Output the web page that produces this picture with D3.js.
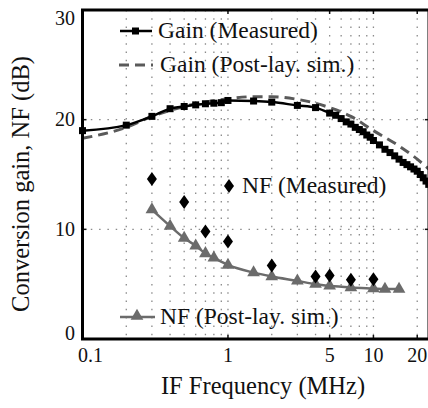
<!DOCTYPE html>
<html>
<head>
<meta charset="utf-8">
<script src="https://cdn.jsdelivr.net/npm/d3@7"></script>
<style>
  body { margin: 0; background: #fff; }
  svg text { font-family: "Liberation Serif", "Times New Roman", serif; fill: #111; }
</style>
</head>
<body>
<script>
// Gain (Measured)
const gainMeasFreq = [0.1, 0.2, 0.3, 0.4, 0.5, 0.6, 0.7, 0.8, 0.9, 1, 1.5, 2, 3, 4, 5, 5.5, 6, 6.5, 7, 7.5, 8, 8.5, 9, 9.5, 10,
                      11, 12, 13, 14, 15, 16, 17, 18, 19, 20, 21, 22, 23, 24];
const gainMeas = [19.0, 19.5, 20.3, 21.0, 21.2, 21.35, 21.45, 21.5, 21.55, 21.75, 21.7, 21.6, 21.3, 21.1, 20.6, 20.4, 20.1, 19.8, 19.6, 19.3, 19.1, 18.9, 18.6, 18.4, 18.1,
                  17.7, 17.3, 17.0, 16.7, 16.4, 16.1, 15.9, 15.7, 15.5, 15.3, 15.0, 14.7, 14.4, 14.1];

// Gain (Post-lay. sim.)
const gainSimFreq = [0.1, 0.2, 0.3, 0.5, 0.7, 1, 1.5, 2, 3, 4, 5, 7, 10, 15, 20, 24];
const gainSim = [18.3, 19.3, 20.3, 21.2, 21.6, 21.9, 22.1, 22.1, 21.85, 21.5, 21.1, 20.3, 19.0, 17.6, 16.4, 15.5];

// NF (Measured)
const nfMeasFreq = [0.3, 0.5, 0.7, 1, 2, 4, 5, 7, 10];
const nfMeas = [14.6, 12.5, 9.8, 8.9, 6.7, 5.7, 5.8, 5.4, 5.45];

// NF (Post-lay. sim.)
const nfSimFreq = [0.3, 0.4, 0.5, 0.6, 0.7, 0.8, 1, 1.5, 2, 3, 4, 5, 7, 10, 12, 15];
const nfSim = [11.8, 10.3, 9.2, 8.5, 7.8, 7.4, 6.75, 6.05, 5.7, 5.3, 5.0, 4.85, 4.7, 4.6, 4.55, 4.55];

const xTickVals = [0.1, 1, 5, 10, 20];
const yTickVals = [0, 10, 20, 30];
const xGridVals = [0.2, 0.3, 0.4, 0.5, 0.6, 0.7, 0.8, 0.9, 1, 2, 3, 4, 5, 6, 7, 8, 9, 10, 20];
const yGridVals = [10, 20];

const W = 428, H = 408;
const pLeft = 82.5, pRight = 429, pTop = 10, pBottom = 339;

const x = d3.scaleLog().domain([0.1, 24.1]).range([pLeft, pRight]);
const y = d3.scaleLinear().domain([0, 30]).range([pBottom, pTop]);

const svg = d3.select("body").append("svg")
    .attr("width", W)
    .attr("height", H);

// dotted grid
svg.append("g").selectAll("line")
    .data(xGridVals)
    .enter().append("line")
    .attr("x1", d => x(d)).attr("x2", d => x(d))
    .attr("y1", pTop).attr("y2", pBottom)
    .attr("stroke", "#8a8a8a")
    .attr("stroke-width", 1.3)
    .attr("stroke-dasharray", "1.5,6.8");

svg.append("g").selectAll("line")
    .data(yGridVals)
    .enter().append("line")
    .attr("x1", pLeft).attr("x2", pRight)
    .attr("y1", d => y(d)).attr("y2", d => y(d))
    .attr("stroke", "#8a8a8a")
    .attr("stroke-width", 1.3)
    .attr("stroke-dasharray", "1.5,6.8");

// small inward ticks
const ticks = svg.append("g").attr("stroke", "#111").attr("stroke-width", 1.5);
xTickVals.forEach(v => {
    ticks.append("line").attr("x1", x(v)).attr("x2", x(v)).attr("y1", pBottom).attr("y2", pBottom - 4);
    ticks.append("line").attr("x1", x(v)).attr("x2", x(v)).attr("y1", pTop).attr("y2", pTop + 4);
});
yGridVals.forEach(v => {
    ticks.append("line").attr("x1", pLeft).attr("x2", pLeft + 4).attr("y1", y(v)).attr("y2", y(v));
    ticks.append("line").attr("x1", pRight - 4).attr("x2", pRight).attr("y1", y(v)).attr("y2", y(v));
});

// series
const gainMeasPts = gainMeasFreq.map((f, i) => [f, gainMeas[i]]);
const gainSimPts = gainSimFreq.map((f, i) => [f, gainSim[i]]);
const nfMeasPts = nfMeasFreq.map((f, i) => [f, nfMeas[i]]);
const nfSimPts = nfSimFreq.map((f, i) => [f, nfSim[i]]);

const line = d3.line()
    .x(d => x(d[0]))
    .y(d => y(d[1]))
    .curve(d3.curveMonotoneX);

svg.append("path")
    .datum(gainSimPts)
    .attr("d", line)
    .attr("fill", "none")
    .attr("stroke", "#5a5a5a")
    .attr("stroke-width", 3)
    .attr("stroke-dasharray", "10,6");

svg.append("path")
    .datum(nfSimPts)
    .attr("d", line)
    .attr("fill", "none")
    .attr("stroke", "#6b6b6b")
    .attr("stroke-width", 2.5);

const triangle = d3.symbol().type(d3.symbolTriangle).size(70);
svg.append("g").selectAll("path")
    .data(nfSimPts)
    .enter().append("path")
    .attr("d", triangle)
    .attr("transform", d => `translate(${x(d[0])},${y(d[1])})`)
    .attr("fill", "#6b6b6b");

svg.append("path")
    .datum(gainMeasPts)
    .attr("d", line)
    .attr("fill", "none")
    .attr("stroke", "#000")
    .attr("stroke-width", 2.5);

svg.append("g").selectAll("rect")
    .data(gainMeasPts)
    .enter().append("rect")
    .attr("x", d => x(d[0]) - 3.5)
    .attr("y", d => y(d[1]) - 3.5)
    .attr("width", 7)
    .attr("height", 7)
    .attr("fill", "#000");

const diamond = "M0,-7L5,0L0,7L-5,0Z";
svg.append("g").selectAll("path")
    .data(nfMeasPts)
    .enter().append("path")
    .attr("d", diamond)
    .attr("transform", d => `translate(${x(d[0])},${y(d[1])})`)
    .attr("fill", "#000");

// axes frame (left, bottom, top, right)
svg.append("path")
    .attr("d", `M${pLeft},${pTop}H${pRight}M${pLeft},${pTop - 1.5}V${pBottom + 1.5}M${pLeft},${pBottom}H${pRight}M${pRight},${pTop}V${pBottom}`)
    .attr("stroke", "#000")
    .attr("stroke-width", 3)
    .attr("fill", "none");

// tick labels
svg.append("g").selectAll("text")
    .data(yTickVals)
    .enter().append("text")
    .attr("x", 75)
    .attr("y", d => Math.min(Math.max(y(d), pTop + 8), pBottom - 6))
    .attr("dy", "0.34em")
    .attr("text-anchor", "end")
    .style("font-size", "20px")
    .text(d => d);

svg.append("g").selectAll("text")
    .data(xTickVals)
    .enter().append("text")
    .attr("x", d => Math.max(x(d), pLeft + 8))
    .attr("y", 362)
    .attr("text-anchor", "middle")
    .style("font-size", "20px")
    .text(d => d);

// axis titles
svg.append("text")
    .attr("x", 263)
    .attr("y", 394)
    .attr("text-anchor", "middle")
    .style("font-size", "24.5px")
    .text("IF Frequency (MHz)");

svg.append("text")
    .attr("transform", "translate(29,184) rotate(-90)")
    .attr("text-anchor", "middle")
    .style("font-size", "24.5px")
    .text("Conversion gain, NF (dB)");

// legend
const lg = svg.append("g");
lg.append("line").attr("x1", 120).attr("x2", 152).attr("y1", 31).attr("y2", 31)
    .attr("stroke", "#000").attr("stroke-width", 2.5);
lg.append("rect").attr("x", 132).attr("y", 27.5).attr("width", 7).attr("height", 7).attr("fill", "#000");
lg.append("text").attr("x", 158).attr("y", 38).style("font-size", "23.5px").text("Gain (Measured)");

lg.append("line").attr("x1", 119).attr("x2", 153).attr("y1", 65).attr("y2", 65)
    .attr("stroke", "#5a5a5a").attr("stroke-width", 3).attr("stroke-dasharray", "10,6");
lg.append("text").attr("x", 160).attr("y", 72).style("font-size", "23.5px").text("Gain (Post-lay. sim.)");

lg.append("path").attr("d", diamond).attr("transform", "translate(229,186)").attr("fill", "#000");
lg.append("text").attr("x", 242).attr("y", 193).style("font-size", "23.5px").text("NF (Measured)");

lg.append("line").attr("x1", 120).attr("x2", 155).attr("y1", 317).attr("y2", 317)
    .attr("stroke", "#6b6b6b").attr("stroke-width", 2.5);
lg.append("path").attr("d", triangle).attr("transform", "translate(137,316)").attr("fill", "#6b6b6b");
lg.append("text").attr("x", 160).attr("y", 324).style("font-size", "23.5px").text("NF (Post-lay. sim.)");
</script>
</body>
</html>
